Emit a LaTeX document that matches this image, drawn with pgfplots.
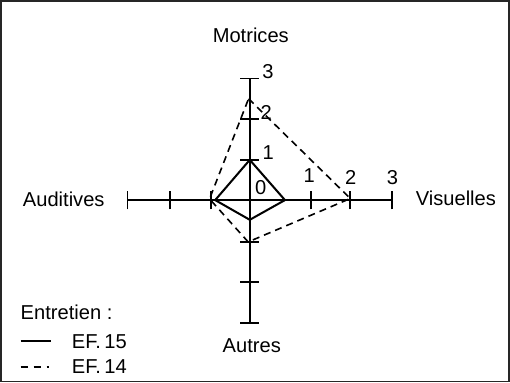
\documentclass[border=0pt]{standalone}
\usepackage{pgfplots}
\pgfplotsset{compat=1.18}
\usepackage{fontspec}
\setmainfont{Liberation Sans}

% radar values, one unit = one scale step
\pgfplotstableread{
x y
0 1
0.875 0
0 -0.49
-0.86 0
0 1
}\efquinze
\pgfplotstableread{
x y
-0.03 2.52
2.5 0.04
-0.04 -1.04
-1.0 0.03
-0.03 2.52
}\efquatorze

\begin{document}
\begin{tikzpicture}
\begin{axis}[
    scale only axis,
    width=510bp, height=385bp,
    xmin=-6.25, xmax=6.5,
    ymin=-4.5575, ymax=5.0675,
    axis lines=none,
    clip=false,
]
% frame
\draw[line width=1.6bp, black!85] (-6.19,4.955) rectangle (6.45,-4.5075);
% axes
\draw[line width=1.7bp] (0,3.025) -- (0,-3.06);
\draw[line width=1.7bp] (-3.04,0) -- (3.54,0);
\pgfplotsinvokeforeach{1.0,2.02,3.025,-1.05,-2.03,-3.06}{
  \draw[line width=1.7bp] (-0.24,#1) -- (0.24,#1);
}
\pgfplotsinvokeforeach{-0.96,-1.98,-3.04,1.52,2.5,3.54}{
  \draw[line width=1.7bp] (#1,-0.23) -- (#1,0.23);
}

\addplot[black, line width=2bp] table {\efquinze};
\addplot[black, line width=1.6bp, dash pattern=on 7bp off 5bp] table {\efquatorze};

% scale labels
\begin{scope}[every node/.style={font=\fontsize{20bp}{22bp}\selectfont, inner sep=0pt}]
\node at (0.45,3.19) {3};
\node at (0.41,2.17) {2};
\node at (0.46,1.18) {1};
\node at (0.275,0.32) {0};
\node at (1.475,0.605) {1};
\node at (2.51,0.57) {2};
\node at (3.55,0.57) {3};
\end{scope}

% axis names and legend
\begin{scope}[every node/.style={font=\fontsize{20bp}{24bp}\selectfont, inner sep=0pt}]
\node at (0.025,4.09) {Motrices};
\node at (5.125,0.04) {Visuelles};
\node at (-4.625,0.025) {Auditives};
\node at (0.05,-3.61) {Autres};
\node[anchor=west] at (-5.7,-2.8) {Entretien :};
\node[anchor=west] at (-4.425,-3.51) {EF.\,15};
\node[anchor=west] at (-4.425,-4.15) {EF.\,14};
\end{scope}
\draw[line width=1.7bp] (-5.7,-3.51) -- (-4.95,-3.51);
\draw[line width=1.7bp, dash pattern=on 7bp off 6bp on 7bp off 6bp on 2bp off 10bp] (-5.7,-4.15) -- (-4.95,-4.15);
\end{axis}
\end{tikzpicture}
\end{document}
